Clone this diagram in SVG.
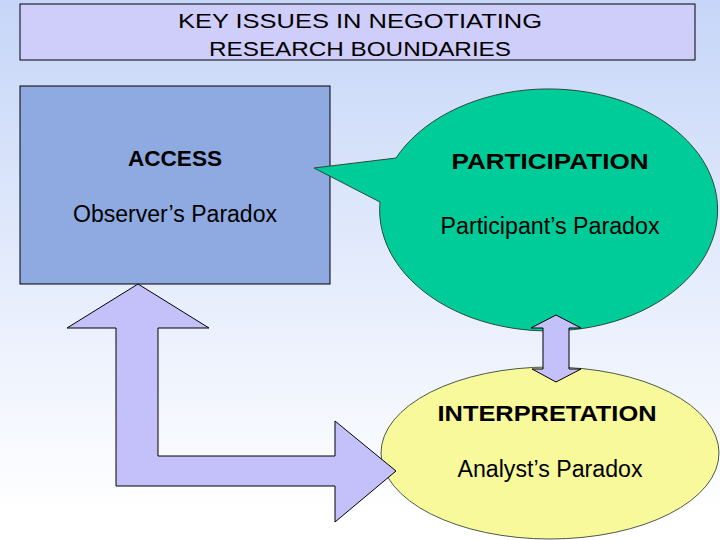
<svg xmlns="http://www.w3.org/2000/svg" width="720" height="540" viewBox="0 0 720 540">
<defs>
<linearGradient id="bg" x1="0" y1="0" x2="0" y2="1">
<stop offset="0" stop-color="#c6d6f8"/>
<stop offset="0.95" stop-color="#ffffff"/>
<stop offset="1" stop-color="#ffffff"/>
</linearGradient>
<style>
.t{font-family:"Liberation Sans",Arial,sans-serif;fill:#000;text-anchor:middle}
.b{font-weight:bold}
.arrow{fill:#c4c0f9;stroke:#000;stroke-width:1}
</style>
</defs>
<rect x="0" y="0" width="720" height="540" fill="url(#bg)"/>
<g id="title">
<rect x="20" y="4" width="675" height="56" fill="#cfcdfa" stroke="#000" stroke-width="1"/>
<text class="t" x="360" y="27.5" font-size="20.5" textLength="364" lengthAdjust="spacingAndGlyphs">KEY ISSUES IN NEGOTIATING</text>
<text class="t" x="360" y="56" font-size="20.5" textLength="302" lengthAdjust="spacingAndGlyphs">RESEARCH BOUNDARIES</text>
</g>
<g id="access">
<rect x="20" y="86" width="310" height="198" fill="#8eaae0" stroke="#000" stroke-width="1"/>
<text class="t b" x="175" y="166" font-size="22.5" textLength="94" lengthAdjust="spacingAndGlyphs">ACCESS</text>
<text class="t" x="175" y="222" font-size="23" textLength="204" lengthAdjust="spacingAndGlyphs">Observer’s Paradox</text>
</g>
<g id="participation">
<path d="M396,158 A169,121 0 1 1 380,202 L314,168 Z" fill="#00cc99" stroke="#2a4a3a" stroke-width="1"/>
<text class="t b" x="550" y="169" font-size="22.5" textLength="197" lengthAdjust="spacingAndGlyphs">PARTICIPATION</text>
<text class="t" x="550" y="234" font-size="23" textLength="219" lengthAdjust="spacingAndGlyphs">Participant’s Paradox</text>
</g>
<g id="interpretation">
<ellipse cx="550" cy="453" rx="169" ry="86" fill="#f8f99a" stroke="#4a5a4a" stroke-width="1"/>
<text class="t b" x="547" y="421" font-size="22.5" textLength="219" lengthAdjust="spacingAndGlyphs">INTERPRETATION</text>
<text class="t" x="550" y="477" font-size="23" textLength="185" lengthAdjust="spacingAndGlyphs">Analyst’s Paradox</text>
</g>
<g id="connectors">
<polygon class="arrow" points="556,315 581,328 569,328 569,369 581,369 556,382 532,369 543,369 543,328 531,328"/>
<polygon class="arrow" points="138,284 209,328 158,328 158,456 335,456 335,421 396,471 335,522 335,486 116,486 116,328 67,328"/>
</g>
</svg>
